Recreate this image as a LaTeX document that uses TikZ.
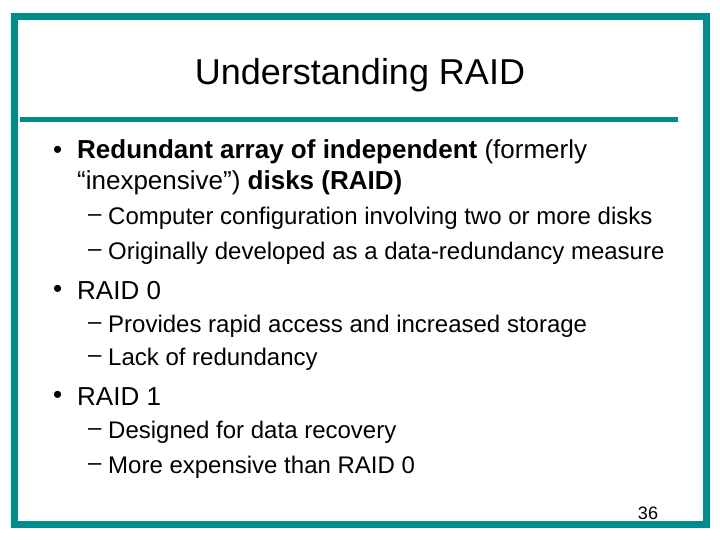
\documentclass[tikz,border=0pt]{standalone}
\usepackage{fontspec}
\setmainfont{Liberation Sans}
\definecolor{teal1}{RGB}{0,140,140}
\begin{document}
\begin{tikzpicture}[x=1pt,y=-1pt,
  lvl/.style={anchor=west,inner sep=0pt,font=\fontsize{26}{30}\selectfont},
  sub/.style={anchor=west,inner sep=0pt,font=\fontsize{24}{28}\selectfont}]
\useasboundingbox (0,0) rectangle (720,540);
\fill[white] (0,0) rectangle (720,540);
\draw[teal1,line width=7] (14,17) rectangle (706,524);
\draw[teal1,line width=5] (20,120) -- (678,120);
\node[inner sep=0pt,font=\fontsize{36}{40}\selectfont] (t) at (360,75) {Understanding RAID};
\node[lvl] (b1) at (53,152) {•};
\node[lvl] (l1) at (77,152) {\textbf{Redundant array of independent} (formerly};
\node[lvl] (l2) at (77,183) {“inexpensive”) \textbf{disks (RAID)}};
\node[sub] (d1) at (88,218) {–};
\node[sub] (s1) at (108,218) {Computer configuration involving two or more disks};
\node[sub] (d2) at (88,253) {–};
\node[sub] (s2) at (108,253) {Originally developed as a data-redundancy measure};
\node[lvl] (b2) at (53,291) {•};
\node[lvl] (l3) at (77,291) {RAID 0};
\node[sub] (d3) at (88,326) {–};
\node[sub] (s3) at (108,326) {Provides rapid access and increased storage};
\node[sub] (d4) at (88,359) {–};
\node[sub] (s4) at (108,359) {Lack of redundancy};
\node[lvl] (b3) at (53,397) {•};
\node[lvl] (l4) at (77,397) {RAID 1};
\node[sub] (d5) at (88,432) {–};
\node[sub] (s5) at (108,432) {Designed for data recovery};
\node[sub] (d6) at (88,467) {–};
\node[sub] (s6) at (108,467) {More expensive than RAID 0};
\node[inner sep=0pt,font=\fontsize{18}{20}\selectfont] (n) at (648,513) {36};
\end{tikzpicture}
\end{document}
